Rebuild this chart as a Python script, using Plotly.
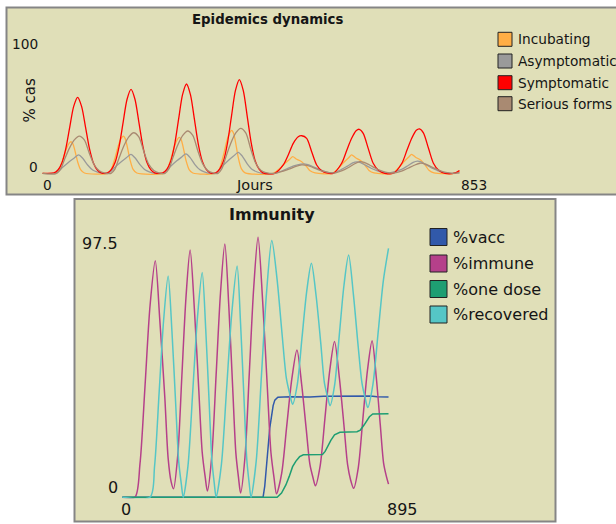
import plotly.graph_objects as go

# ---------------- DATA ----------------
# Top panel: "Epidemics dynamics" (x = Jours, y = % cas)
top_series = ["Incubating", "Asymptomatic", "Symptomatic", "Serious forms"]
top_colors = ["#FFAE45", "#9A9A9A", "#FF0000", "#A98A72"]
top_x_max = 853
top_y_max = 100

incub_days = [0, 25, 31, 38.5, 46, 51, 54.4, 58, 61, 64, 67, 73, 80,
              124.5, 130.5, 138, 145.5, 150.5, 154, 157.5, 160.5, 163.5, 166.5, 172.5, 179.5,
              231, 237, 244.5, 252, 257, 260.3, 264, 267, 270, 273, 279, 286,
              330.5, 336.5, 344, 351.5, 356.5, 360, 363.5, 366.5, 369.5, 372.5, 378.5, 385.5,
              439, 451.8, 461.3, 470.8, 476, 483.6, 493, 502.6, 509, 518.5,
              551, 563.8, 573.3, 582.8, 588, 595.6, 605, 614.6, 621, 630.5,
              665, 677.8, 687.3, 696.8, 702, 709.6, 719, 728.6, 735, 744.5,
              785, 793]
incub_vals = [0, 0, 2, 9, 17.4, 21, 22, 20.5, 17, 12.5, 8, 2.3, 0.2,
              0, 2.4, 10.6, 20.6, 24.8, 26, 24.2, 20, 14.8, 9.5, 2.7, 0.2,
              0, 2.3, 10.2, 19.8, 23.9, 25, 23.3, 19.3, 14.2, 9.1, 2.6, 0.2,
              0, 2.7, 12.3, 23.7, 28.6, 30, 28, 23.2, 17, 10.9, 3.1, 0.3,
              0, 3.5, 7, 10, 11.6, 9.8, 8.1, 4.6, 1.8, 0.3,
              0, 3.9, 7.7, 11, 12.8, 10.8, 8.9, 5.1, 2, 0.3,
              0, 4, 8, 11.4, 13.2, 11.2, 9.2, 5.3, 2.1, 0.3,
              0, 1.5]

asym_days = [0, 26, 38.5, 51, 60, 69, 76.6, 86, 95.6, 105, 114.6,
             125.5, 138, 150.5, 159.5, 168.5, 176, 185.5, 195, 204.5, 214,
             230, 242.5, 255, 264, 273, 280.6, 290, 299.6, 309, 318.6,
             329.5, 342, 354.5, 363.5, 372.5, 380, 389.5, 399, 408.5, 418,
             442, 458, 470, 485, 496, 505, 515, 525, 535, 545,
             555, 568, 580, 590, 597.5, 605, 615, 625, 635, 645, 660,
             683, 695, 705, 713, 720, 730, 740, 750, 760, 775, 793]
asym_vals = [0, 0, 4.2, 8.1, 10.5, 12.8, 10.5, 5.8, 2.3, 0.8, 0,
             0, 4.3, 8.3, 10.8, 13.2, 10.8, 6, 2.4, 0.8, 0,
             0, 4.4, 8.5, 11.1, 13.5, 11.1, 6.1, 2.4, 0.8, 0,
             0, 4.8, 9.2, 12, 14.6, 12, 6.6, 2.6, 0.9, 0,
             0, 2, 4, 5.8, 6.5, 6, 4.5, 3, 1.5, 0.5,
             0.5, 2.5, 5, 7.2, 8, 7.5, 5.5, 3.5, 2, 0.8, 0.3,
             2.7, 5.3, 7.6, 8.5, 8, 5.8, 3.7, 2.1, 0.8, 0, 0.5]

symp_days = [0, 22, 29.5, 37, 44.5, 52, 59.5, 67, 74.5, 82, 89.5, 97, 104.5, 112,
             123.5, 131, 138.5, 146, 153.5, 161, 168.5, 176, 183.5, 191, 198.5, 206, 213.5,
             229, 236.5, 244, 251.5, 259, 266.5, 274, 281.5, 289, 296.5, 304, 311.5, 319,
             329.5, 337, 344.5, 352, 359.5, 367, 374.5, 382, 389.5, 397, 404.5, 412, 419.5,
             442, 458, 467.5, 477, 486.5, 493, 502.5, 512, 521.5, 531, 540.5,
             553, 569, 579, 588, 596.5, 602.5, 610, 619.5, 629, 638.5, 651,
             667.5, 683.5, 693.5, 702.5, 711, 717, 724.5, 734, 743.5, 753, 765.5, 785, 793]
symp_vals = [0, 0.3, 2.3, 7.2, 17.2, 32.2, 46.7, 53, 46.7, 32.2, 17.2, 7.2, 2.3, 0.3,
             0.3, 2.6, 7.9, 19.0, 35.6, 51.7, 58.6, 51.7, 35.6, 19.0, 7.9, 2.6, 0.3,
             0.3, 2.7, 8.4, 20.2, 37.8, 54.9, 62.3, 54.9, 37.8, 20.2, 8.4, 2.7, 0.3,
             0.3, 2.9, 8.8, 21.3, 39.7, 57.7, 65.4, 57.7, 39.7, 21.3, 8.8, 2.9, 0.3,
             0, 5.8, 12.8, 20.9, 25.5, 26.2, 24.4, 15.1, 5.8, 1.8, 0.2,
             0, 7, 16.3, 24.4, 29.7, 30.7, 27.9, 17.4, 7, 2.3, 0,
             0, 7, 16.4, 24.6, 30, 31, 28.2, 17.6, 7, 2.3, 0, 0.3, 2]

serious_days = [0, 27, 34, 41.7, 51.2, 60.7, 70, 79.7, 89.2, 98.7, 108.2, 117.7,
                130.6, 137.6, 145.3, 154.8, 164.3, 173.6, 183.3, 192.8, 202.3, 211.8, 221.3,
                233.2, 240.2, 247.9, 257.4, 266.9, 276.2, 285.9, 295.4, 304.9, 314.4, 323.9,
                334, 341, 348.7, 358.2, 367.7, 377, 386.7, 396.2, 405.7, 415.2, 424.7, 432,
                442, 458, 470, 482, 493, 503, 513, 523, 533, 545,
                556, 570, 582, 592, 603, 612, 622, 632, 642, 652,
                668, 683, 695, 707, 718, 727, 737, 747, 757, 767, 780, 793]
serious_vals = [0, 0, 2.5, 9.3, 17.4, 23.3, 26, 23.3, 14, 5.8, 1.8, 0.3,
                0, 2.7, 10.1, 19, 25.4, 28.3, 25.4, 15.2, 6.3, 2, 0.3,
                0, 2.8, 10.6, 19.7, 26.4, 29.5, 26.4, 15.9, 6.6, 2, 0.3,
                0, 3, 11.2, 21, 28.2, 31.4, 28.2, 16.9, 7, 2.2, 0.4, 0,
                0, 1.5, 3, 4.8, 5.8, 5.5, 4.3, 2.8, 1.5, 0.5,
                0.2, 1.8, 4, 6.3, 8.1, 7.6, 5.8, 3.8, 2, 0.8,
                0.2, 1.5, 3.5, 5.6, 7, 6.6, 5, 3.2, 1.7, 0.6, 0, 0.3]

# Bottom panel: "Immunity"
bot_series = ["%vacc", "%immune", "%one dose", "%recovered"]
bot_colors = ["#3159AA", "#B5408A", "#1E9E72", "#55C6C6"]
bot_x_max = 895
bot_y_max = 97.5

vacc_days = [0, 420, 425, 430, 435, 440, 445, 450, 455, 464, 500, 560, 600, 650, 700, 740, 760, 794]
vacc_vals = [0, 0, 4, 10, 18, 25, 30, 33, 35, 36, 36.2, 36.1, 36.4, 36.5, 36.6, 36.5, 36.2, 36.1]

immune_days = [0, 38, 53, 68, 83, 98.6, 112, 127, 137, 146, 153,
               165.6, 177.8, 190.1, 202.5, 215.4, 228.3, 238.6, 247.3, 254,
               267, 280, 293, 306, 317.8, 329.5, 338.9, 346.9, 353,
               366, 379, 392, 405, 418.8, 432.5, 443.5, 452.9, 460,
               475.3, 490.5, 505.8, 521, 534.8, 548.5, 559.5, 568.9, 576,
               590.3, 604.5, 618.8, 633, 647.3, 661.5, 672, 680.6, 690,
               703.8, 717.5, 731.3, 745, 757.3, 769.5, 779.3, 787.6, 794]
immune_vals = [0, 0, 12, 40, 69, 85.2, 64, 36, 14, 5.5, 3,
               15.1, 43.5, 71.9, 89.1, 67.4, 38.7, 16.1, 7.4, 2.2,
               14.7, 44.1, 73.5, 91.3, 68.9, 39.2, 15.9, 6.9, 1.5,
               14.4, 44.8, 75.3, 93.7, 70.6, 40, 16, 6.8, 1.2,
               8.5, 25.6, 42.7, 53.1, 40.9, 24.7, 11.9, 7, 4.1,
               11.4, 28.5, 45.7, 56.1, 43.2, 25.4, 11.7, 6.4, 3.2,
               10.6, 28.2, 45.8, 56.4, 43.5, 26, 12.3, 7.5, 4.7]

one_dose_days = [0, 462, 475, 488, 498, 508, 518, 529, 540, 597, 605, 612, 622, 633, 649,
                 700, 710, 721, 730, 737, 747, 794]
one_dose_vals = [0, 0, 1.5, 4.4, 7.5, 11, 13, 14.6, 15.3, 15.4, 16.5, 18.3, 20.5, 22.5, 23.4,
                 23.6, 24.2, 26, 27.8, 29, 30, 30.1]

recovered_days = [0, 83, 96.5, 110, 123.5, 137, 148.3, 159.5, 168.5, 176.2, 182,
                  196.1, 210.3, 224.4, 238.5, 248.9, 259.3, 267.6, 274.6, 280,
                  295.7, 311.3, 326.9, 342.6, 352.9, 363.3, 371.6, 378.6, 384,
                  399.5, 415, 430.5, 446, 461.5, 477, 489.4, 499.9, 508,
                  522, 536, 550, 564, 577.9, 591.8, 602.9, 612.4, 619.6,
                  633.5, 647.3, 661.2, 675, 689.3, 703.5, 714.9, 724.6, 732,
                  747.5, 763, 778.5, 794]
recovered_vals = [0, 0, 11.2, 37.5, 63.8, 79.7, 59.8, 33.5, 12.8, 4.8, 0,
                  11.3, 38.1, 64.8, 81, 60.8, 34, 13, 4.9, 0,
                  11.7, 39.2, 66.6, 83.3, 62.5, 35, 13.3, 5, 0,
                  13, 43.5, 74, 92.5, 78.8, 58.3, 42.9, 37, 33.5,
                  40.6, 57.4, 74.1, 84.3, 72.8, 55.8, 41.2, 36.1, 33,
                  40.6, 58.5, 76.4, 87.3, 73.1, 54.4, 41.1, 35.6, 32.3,
                  40.7, 59.3, 78, 89.7]

# ---------------- LAYOUT HELPERS ----------------
W, H = 616, 524
FONT = "DejaVu Sans"
KHAKI = "#E0DFB8"
BORDER = "#858585"


def px(x):
    return x / W


def py(y):
    return 1 - y / H


fig = go.Figure()

top_data = [(incub_days, incub_vals), (asym_days, asym_vals),
            (symp_days, symp_vals), (serious_days, serious_vals)]
for name, color, (xs, ys) in zip(top_series, top_colors, top_data):
    fig.add_trace(go.Scatter(x=xs, y=ys, name=name, mode="lines",
                             line=dict(color=color, width=1.3, shape="spline", smoothing=0.8),
                             xaxis="x", yaxis="y", showlegend=False, hoverinfo="skip"))

bot_data = [(vacc_days, vacc_vals), (immune_days, immune_vals),
            (one_dose_days, one_dose_vals), (recovered_days, recovered_vals)]
bot_shapes = ["linear", "spline", "linear", "spline"]
for name, color, (xs, ys), shp in zip(bot_series, bot_colors, bot_data, bot_shapes):
    fig.add_trace(go.Scatter(x=xs, y=ys, name=name, mode="lines",
                             line=dict(color=color, width=1.5, shape=shp, smoothing=0.8),
                             xaxis="x2", yaxis="y2", showlegend=False, hoverinfo="skip"))

axis_common = dict(showgrid=False, zeroline=False, showline=False, showticklabels=False,
                   ticks="", fixedrange=True)

shapes = [
    # panel frames
    dict(type="rect", xref="paper", yref="paper", x0=px(6.5), x1=px(640), y0=py(194.5), y1=py(7.5),
         fillcolor=KHAKI, line=dict(color=BORDER, width=2), layer="below"),
    dict(type="rect", xref="paper", yref="paper", x0=px(74.5), x1=px(555.5), y0=py(521.5), y1=py(199),
         fillcolor=KHAKI, line=dict(color=BORDER, width=2), layer="below"),
]

annotations = []


def add_text(text, x, y, size, xanchor="center", yanchor="middle", bold=False, angle=0):
    annotations.append(dict(text=("<b>%s</b>" % text) if bold else text, xref="paper", yref="paper",
                            x=px(x), y=py(y), xanchor=xanchor, yanchor=yanchor, showarrow=False,
                            textangle=angle, font=dict(family=FONT, size=size, color="#151515")))


# top panel texts
TS = 13.7
add_text("Epidemics dynamics", 267, 20, 13.3, bold=True)
add_text("% cas", 29.5, 101, 15, angle=-90)
add_text(str(top_y_max), 40, 44.3, TS, xanchor="right")
add_text("0", 40, 166.7, TS, xanchor="right")
add_text("0", 40.5, 184.5, TS, xanchor="left")
add_text("Jours", 254.5, 184.5, 14.5)
add_text(str(top_x_max), 489, 184.5, TS, xanchor="right")

top_rows = [39.3, 61, 82.7, 103.7]
for name, color, yc in zip(top_series, top_colors, top_rows):
    shapes.append(dict(type="rect", xref="paper", yref="paper", x0=px(498), x1=px(512),
                       y0=py(yc + 7), y1=py(yc - 7), fillcolor=color,
                       line=dict(color="#222222", width=1)))
    add_text(name, 516, yc, TS, xanchor="left")

# bottom panel texts
BS = 16
add_text("Immunity", 272, 215, 16, bold=True)
add_text(str(bot_y_max), 120, 243.3, BS, xanchor="right")
add_text("0", 120, 487.5, BS, xanchor="right")
add_text("0", 125.5, 509.3, BS)
add_text(str(bot_x_max), 402, 509.3, BS)

bot_rows = [237, 263.5, 289, 314.5]
for name, color, yc in zip(bot_series, bot_colors, bot_rows):
    shapes.append(dict(type="rect", xref="paper", yref="paper", x0=px(430), x1=px(447),
                       y0=py(yc + 8.5), y1=py(yc - 8.5), fillcolor=color,
                       line=dict(color="#222222", width=1)))
    add_text(name, 451, yc, BS, xanchor="left")

fig.update_layout(
    width=W, height=H, margin=dict(l=0, r=0, t=0, b=0),
    paper_bgcolor="white", plot_bgcolor="white",
    xaxis=dict(domain=[px(42.4), px(491)], range=[0, top_x_max], anchor="y", **axis_common),
    yaxis=dict(domain=[py(175), py(30)], range=[-1.2, top_y_max], anchor="x", **axis_common),
    xaxis2=dict(domain=[px(122.2), px(422.4)], range=[0, bot_x_max], anchor="y2", **axis_common),
    yaxis2=dict(domain=[py(498.3), py(226.7)], range=[-0.4, bot_y_max], anchor="x2", **axis_common),
    shapes=shapes, annotations=annotations, showlegend=False,
)

fig.write_html("out.html", config={"displayModeBar": False},
               post_script="document.body.style.margin='0';document.body.style.overflow='hidden';")
